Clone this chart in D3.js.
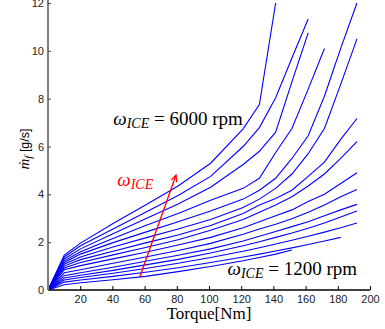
<!DOCTYPE html>
<html>
<head>
<meta charset="utf-8">
<script src="https://cdn.jsdelivr.net/npm/d3@7"></script>
<style>
  body { margin: 0; background: #fff; }
  svg { display: block; }
</style>
</head>
<body>
<svg id="svg1" width="385" height="329"></svg>
<script>
// torque grid [Nm]
const torque = [0, 10.1, 20.2, 40.4, 60.6, 80.8, 101, 121.2, 131.3, 141.4, 151.5, 161.6, 171.7, 181.8, 191.9];

// fuel flow [g/s], highest speed first (6000 rpm ... 1200 rpm)
const c01 = [0, 1.46, 1.96, 2.78, 3.55, 4.35, 5.3, 6.74, 7.75, 12.0, null, null, null, null, null];
const c02 = [0, 1.38, 1.85, 2.55, 3.25, 3.95, 4.75, 6.0, 6.79, 8.04, 9.7, 11.33, null, null, null];
const c03 = [0, 1.3, 1.72, 2.35, 2.98, 3.6, 4.3, 5.25, 5.8, 6.6, 8.7, 10.75, null, null, null];
const c04 = [0, 1.22, 1.6, 2.15, 2.7, 3.2, 3.75, 4.25, 4.67, 5.75, 6.75, 8.4, 10.1, null, null];
const c05 = [0, 1.15, 1.5, 1.98, 2.42, 2.85, 3.3, 3.8, 4.17, 4.67, 5.5, 6.45, 8.1, 10.1, 12.0];
const c06 = [0, 1.08, 1.38, 1.8, 2.18, 2.55, 2.95, 3.45, 3.8, 4.25, 4.85, 5.7, 6.75, 8.6, 10.5];
const c07 = [0, 1.0, 1.27, 1.62, 1.97, 2.3, 2.7, 3.2, 3.55, 3.83, 4.17, 4.75, 5.35, 6.3, 7.17];
const c08 = [0, 0.92, 1.15, 1.47, 1.78, 2.1, 2.5, 2.95, 3.25, 3.55, 3.9, 4.35, 4.85, 5.5, 6.2];
const c09 = [0, 0.85, 1.02, 1.3, 1.58, 1.88, 2.2, 2.6, 2.85, 3.1, 3.35, 3.7, 4.0, 4.45, 4.9];
const c10 = [0, 0.72, 0.85, 1.12, 1.38, 1.65, 1.95, 2.33, 2.55, 2.75, 2.98, 3.25, 3.55, 3.9, 4.2];
const c11 = [0, 0.6, 0.72, 0.95, 1.2, 1.45, 1.72, 2.05, 2.25, 2.45, 2.65, 2.85, 3.1, 3.35, 3.58];
const c12 = [0, 0.5, 0.62, 0.82, 1.05, 1.28, 1.55, 1.85, 2.02, 2.2, 2.38, 2.58, 2.8, 3.05, 3.3];
const c13 = [0, 0.42, 0.52, 0.7, 0.9, 1.12, 1.36, 1.62, 1.77, 1.92, 2.08, 2.25, 2.42, 2.6, 2.8];
const c14 = [0, 0.33, 0.42, 0.57, 0.74, 0.93, 1.15, 1.38, 1.5, 1.63, 1.76, 1.9, 2.05, 2.2, null];
const c15 = [0, 0.22, 0.3, 0.43, 0.57, 0.77, 0.98, 1.22, 1.36, 1.5, 1.67, null, null, null, null];
const curves = [c01, c02, c03, c04, c05, c06, c07, c08, c09, c10, c11, c12, c13, c14, c15];

const xTicks = [20, 40, 60, 80, 100, 120, 140, 160, 180, 200];
const yTicks = [0, 2, 4, 6, 8, 10, 12];

// red arrow (torque, fuel) from -> to
const arrowFrom = [57, 0.54];
const arrowTo = [79.5, 4.8];

const xScale = d3.scaleLinear().domain([0, 200]).range([48, 370]);
const yScale = d3.scaleLinear().domain([0, 12]).range([290, 3]);

const svg = d3.select('#svg1');
const sans = 'Liberation Sans, Arial, sans-serif';
const serif = 'Liberation Serif, Times New Roman, serif';

// curves
const line = d3.line()
    .defined(d => d[1] != null)
    .x(d => xScale(d[0]))
    .y(d => yScale(d[1]));

svg.append('g').selectAll('path')
    .data(curves)
    .enter()
    .append('path')
    .attr('d', c => line(c.map((v, i) => [torque[i], v])))
    .attr('fill', 'none')
    .attr('stroke', '#0000ff')
    .attr('stroke-width', 1.1);

// axes
const xAxis = d3.axisBottom(xScale).tickValues(xTicks).tickSize(-4).tickPadding(5);
const yAxis = d3.axisLeft(yScale).tickValues(yTicks).tickSize(-3).tickPadding(4);

const gx = svg.append('g')
    .attr('transform', 'translate(0,290)')
    .call(xAxis);
gx.select('.domain').attr('d', 'M48,0H370').attr('stroke', '#000').attr('stroke-width', 1.5);
gx.selectAll('.tick line').attr('stroke', '#000');
gx.selectAll('.tick text').attr('font-family', sans).attr('font-size', 11).attr('fill', '#222');

const gy = svg.append('g')
    .attr('transform', 'translate(48,0)')
    .call(yAxis);
gy.select('.domain').attr('d', 'M0,0V290').attr('stroke', '#808080').attr('stroke-width', 2);
gy.selectAll('.tick line').attr('stroke', '#444');
gy.selectAll('.tick text').attr('font-family', sans).attr('font-size', 11).attr('fill', '#222');

// axis titles
svg.append('text')
    .attr('x', 209).attr('y', 319)
    .attr('text-anchor', 'middle')
    .attr('font-family', serif).attr('font-size', 17)
    .text('Torque[Nm]');

const yl = svg.append('text')
    .attr('transform', 'translate(29,149) rotate(-90)')
    .attr('text-anchor', 'middle')
    .attr('font-size', 15);
yl.append('tspan').attr('font-family', serif).attr('font-style', 'italic').text('ṁ');
yl.append('tspan').attr('font-family', serif).attr('font-style', 'italic')
    .attr('font-size', 11).attr('dy', 3).text('f');
yl.append('tspan').attr('font-family', sans).attr('font-size', 12.5).attr('dy', -3).text(' [g/s]');

// speed labels
function omegaLabel(x, y, rest, color) {
  const t = svg.append('text')
      .attr('x', xScale(x)).attr('y', yScale(y))
      .attr('font-family', serif).attr('font-size', 19)
      .attr('fill', color);
  t.append('tspan').attr('font-style', 'italic').text('ω');
  t.append('tspan').attr('font-style', 'italic').attr('font-size', 14).attr('dy', 3).text('ICE');
  if (rest) t.append('tspan').attr('dy', -3).text(rest);
}
omegaLabel(40.5, 6.9, ' = 6000 rpm', '#000');
omegaLabel(111.5, 0.62, ' = 1200 rpm', '#000');
omegaLabel(43, 4.35, null, '#ff0000');

// red arrow
const ax1 = xScale(arrowFrom[0]), ay1 = yScale(arrowFrom[1]);
const ax2 = xScale(arrowTo[0]), ay2 = yScale(arrowTo[1]);
svg.append('line')
    .attr('x1', ax1).attr('y1', ay1).attr('x2', ax2).attr('y2', ay2)
    .attr('stroke', '#ff0000').attr('stroke-width', 1.3);
const ang = Math.atan2(ay2 - ay1, ax2 - ax1);
const hl = 7, hw = 0.45;
svg.append('path')
    .attr('d', 'M' + (ax2 - hl * Math.cos(ang - hw)) + ',' + (ay2 - hl * Math.sin(ang - hw)) +
               'L' + ax2 + ',' + ay2 +
               'L' + (ax2 - hl * Math.cos(ang + hw)) + ',' + (ay2 - hl * Math.sin(ang + hw)))
    .attr('fill', 'none')
    .attr('stroke', '#ff0000').attr('stroke-width', 1.3);
</script>
</body>
</html>
